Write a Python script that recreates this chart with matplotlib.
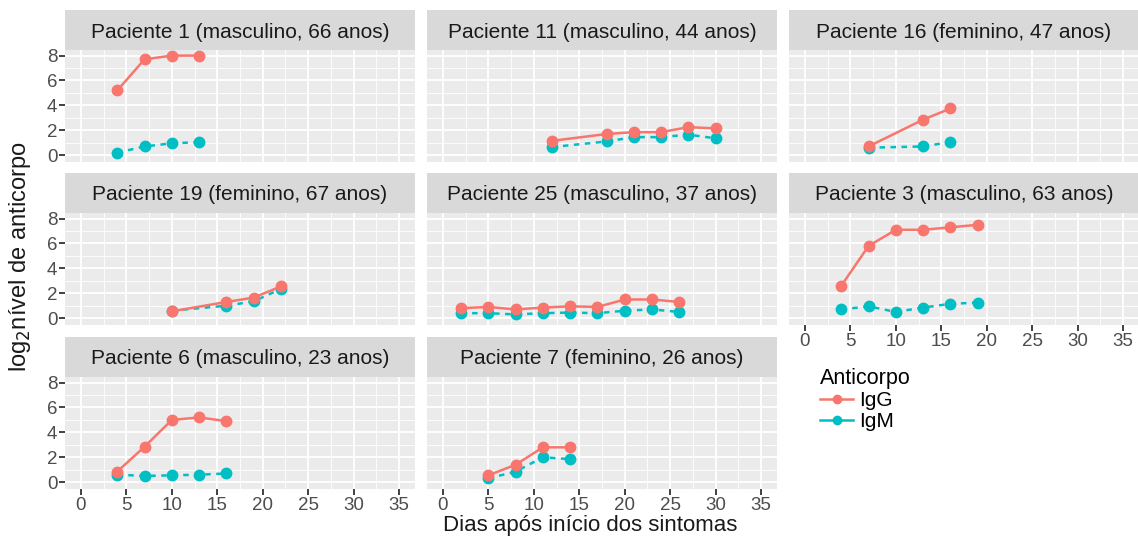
import matplotlib
matplotlib.use("Agg")
import matplotlib.pyplot as plt
from matplotlib.lines import Line2D

plt.rcParams['font.family'] = ['Liberation Sans', 'DejaVu Sans']

# Antibody levels (log2) per patient, days after symptom onset
titles = [
    "Paciente 1 (masculino, 66 anos)",
    "Paciente 11 (masculino, 44 anos)",
    "Paciente 16 (feminino, 47 anos)",
    "Paciente 19 (feminino, 67 anos)",
    "Paciente 25 (masculino, 37 anos)",
    "Paciente 3 (masculino, 63 anos)",
    "Paciente 6 (masculino, 23 anos)",
    "Paciente 7 (feminino, 26 anos)",
]

days_p1 = [4, 7, 10, 13]
igg_p1 = [5.2, 7.7, 8.0, 8.0]
igm_p1 = [0.2, 0.7, 0.95, 1.05]

days_p11 = [12, 18, 21, 24, 27, 30]
igg_p11 = [1.15, 1.7, 1.85, 1.85, 2.25, 2.15]
igm_p11 = [0.65, 1.1, 1.45, 1.45, 1.65, 1.35]

days_p16 = [7, 13, 16]
igg_p16 = [0.7, 2.85, 3.75]
igm_p16 = [0.6, 0.7, 1.05]

days_p19 = [10, 16, 19, 22]
igg_p19 = [0.55, 1.3, 1.65, 2.55]
igm_p19 = [0.6, 1.0, 1.35, 2.35]

days_p25 = [2, 5, 8, 11, 14, 17, 20, 23, 26]
igg_p25 = [0.8, 0.9, 0.7, 0.85, 0.95, 0.9, 1.5, 1.5, 1.3]
igm_p25 = [0.4, 0.4, 0.3, 0.4, 0.45, 0.4, 0.6, 0.7, 0.5]

days_p3 = [4, 7, 10, 13, 16, 19]
igg_p3 = [2.6, 5.8, 7.1, 7.1, 7.3, 7.5]
igm_p3 = [0.7, 0.95, 0.5, 0.85, 1.15, 1.25]

days_p6 = [4, 7, 10, 13, 16]
igg_p6 = [0.85, 2.85, 5.0, 5.2, 4.9]
igm_p6 = [0.6, 0.5, 0.55, 0.6, 0.7]

days_p7 = [5, 8, 11, 14]
igg_p7 = [0.55, 1.4, 2.8, 2.8]
igm_p7 = [0.3, 0.85, 2.0, 1.85]

panels = [
    (days_p1, igg_p1, igm_p1),
    (days_p11, igg_p11, igm_p11),
    (days_p16, igg_p16, igm_p16),
    (days_p19, igg_p19, igm_p19),
    (days_p25, igg_p25, igm_p25),
    (days_p3, igg_p3, igm_p3),
    (days_p6, igg_p6, igm_p6),
    (days_p7, igg_p7, igm_p7),
]

x_ticks = [0, 5, 10, 15, 20, 25, 30, 35]
y_ticks = [0, 2, 4, 6, 8]

IGG = "#F8766D"
IGM = "#00BFC4"

W, H = 1138, 537
fig = plt.figure(figsize=(W / 100, H / 100), dpi=100)


def px_axes(x, y, w, h):
    # place an axes using pixel coordinates measured from the top-left corner
    return fig.add_axes([x / W, 1 - (y + h) / H, w / W, h / H])


col_x = [65, 427, 789]
strip_top = [10, 173, 337]
panel_w = 350
strip_h = 40
panel_h = 112

for i, (title, (days, igg, igm)) in enumerate(zip(titles, panels)):
    row, col = divmod(i, 3)
    x0 = col_x[col]
    y0 = strip_top[row]

    # strip with the facet title
    sax = px_axes(x0, y0, panel_w, strip_h)
    sax.set_facecolor("#D9D9D9")
    sax.set_xticks([])
    sax.set_yticks([])
    for sp in sax.spines.values():
        sp.set_visible(False)
    sax.text(0.5, 0.45, title, ha="center", va="center", fontsize=15,
             color="#1A1A1A", transform=sax.transAxes)

    ax = px_axes(x0, y0 + strip_h, panel_w, panel_h)
    ax.set_facecolor("#EBEBEB")
    for sp in ax.spines.values():
        sp.set_visible(False)
    ax.set_xlim(-1.75, 36.75)
    ax.set_ylim(-0.55, 8.45)
    ax.set_xticks(x_ticks)
    ax.set_yticks(y_ticks)
    ax.set_xticks([2.5, 7.5, 12.5, 17.5, 22.5, 27.5, 32.5], minor=True)
    ax.set_yticks([1, 3, 5, 7], minor=True)
    ax.grid(which="major", color="white", linewidth=1.3)
    ax.grid(which="minor", color="white", linewidth=0.6)
    ax.set_axisbelow(True)
    ax.tick_params(which="minor", length=0)
    ax.tick_params(which="major", length=4, width=1.3, color="#333333",
                   labelsize=13.5, labelcolor="#4D4D4D", pad=1.5)

    bottom = (row == 2) or (row == 1 and col == 2)
    if not bottom:
        ax.tick_params(axis="x", length=0, labelbottom=False)
    if col != 0:
        ax.tick_params(axis="y", length=0, labelleft=False)

    ax.plot(days, igm, color=IGM, linestyle=(0, (2.2, 2.2)), linewidth=1.8,
            marker="o", markersize=7.5, clip_on=False)
    ax.plot(days, igg, color=IGG, linestyle="-", linewidth=1.8,
            marker="o", markersize=7.5, clip_on=False)

fig.text(20 / W, 1 - 257 / H, "log$_2$nível de anticorpo", rotation=90,
         ha="center", va="center", fontsize=17, color="#1A1A1A")
fig.text(590 / W, 1 - 531 / H, "Dias após início dos sintomas",
         ha="center", va="baseline", fontsize=16, color="#1A1A1A")

handles = [
    Line2D([], [], color=IGG, linewidth=1.8, marker="o", markersize=6),
    Line2D([], [], color=IGM, linewidth=1.8, marker="o", markersize=6),
]
leg = fig.legend(handles, ["IgG", "IgM"], title="Anticorpo",
                 loc="upper left", bbox_to_anchor=(820 / W, 1 - 368 / H),
                 frameon=False, fontsize=15, title_fontsize=15.5,
                 handlelength=1.6, handletextpad=0.3, labelspacing=0.1,
                 borderaxespad=0, borderpad=0)
leg._legend_box.align = "left"

fig.savefig("out.png", dpi=100)
